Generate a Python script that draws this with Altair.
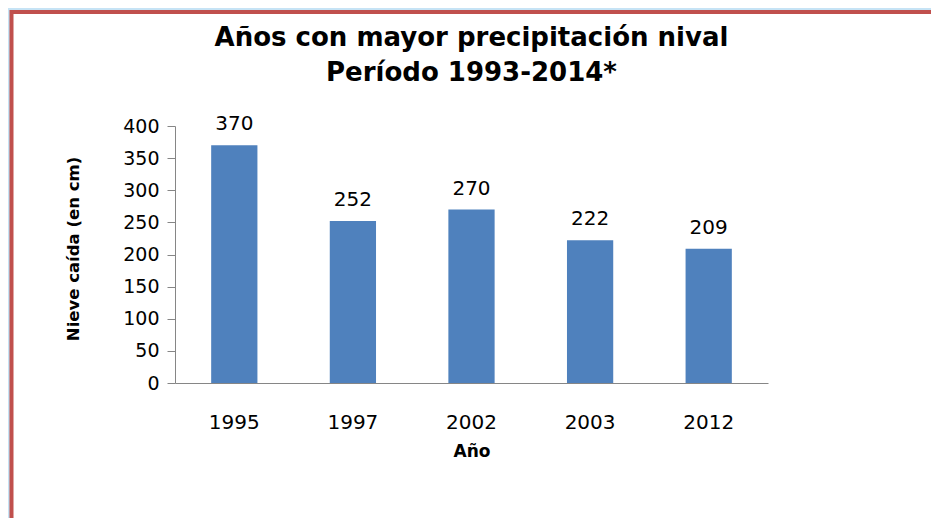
import altair as alt
import pandas as pd

years = ["1995", "1997", "2002", "2003", "2012"]
snow_cm = [370, 252, 270, 222, 209]

df = pd.DataFrame({"Año": years, "Nieve": snow_cm})

FONT = "DejaVu Sans"
W, H = 593, 257

frame = alt.Chart(alt.Data(values=[{}])).mark_rect(
    fill="white", stroke="#c0504d", strokeWidth=4
).encode(
    x=alt.value(-163.5), x2=alt.value(900),
    y=alt.value(-114), y2=alt.value(500)
)

base = alt.Chart(df).encode(
    x=alt.X("Año:N", sort=years,
            scale=alt.Scale(paddingInner=0.61, paddingOuter=0.305),
            axis=alt.Axis(title="Año", labelAngle=0, ticks=False, tickSize=0,
                          labelPadding=29, labelFontSize=20, labelColor="#000000",
                          labelFont=FONT, titleFont=FONT, titleFontSize=17,
                          titleFontWeight="bold", titleColor="#000000", titlePadding=11,
                          domainColor="#868686", domainWidth=1, zindex=1)),
    y=alt.Y("Nieve:Q",
            scale=alt.Scale(domain=[0, 400], nice=False),
            axis=alt.Axis(title="Nieve caída (en cm)", values=list(range(0, 401, 50)),
                          grid=False, tickSize=8, tickColor="#868686",
                          domainColor="#868686", labelPadding=8, labelFontSize=19,
                          labelColor="#000000", labelFont=FONT, titleFont=FONT,
                          titleFontSize=16.5, titleFontWeight="bold", titleColor="#000000",
                          titlePadding=41, titleY=H / 2 - 6, zindex=1)),
)

bars = base.mark_bar(color="#4f81bd")
labels = base.mark_text(dy=-15, baseline="alphabetic", fontSize=20, font=FONT,
                        color="#000000").encode(text="Nieve:Q")

chart = alt.layer(frame, bars, labels).properties(
    width=W, height=H,
    title=alt.TitleParams(["Años con mayor precipitación nival", "Período 1993-2014*"],
                          font=FONT, fontSize=26, fontWeight="bold", color="#000000",
                          anchor="middle", lineHeight=35, offset=0, dy=76),
    background="#c6e3f5",
    padding={"left": 167, "top": 118, "right": 163, "bottom": 135},
    autosize=alt.AutoSizeParams(type="none"),
).configure_view(stroke=None)

chart.save("out.html", embed_options={"renderer": "svg", "actions": False})
